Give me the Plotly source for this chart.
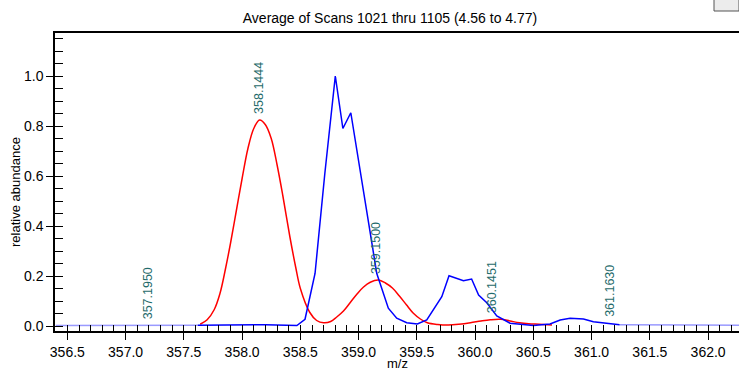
import plotly.graph_objects as go

# ---- data ----
red_mz = [357.64, 357.70, 357.76, 357.81, 357.86, 357.90, 357.95, 358.00, 358.05, 358.10,
          358.15, 358.20, 358.25, 358.30, 358.35, 358.41, 358.46, 358.50, 358.58, 358.64,
          358.70, 358.76, 358.81, 358.87, 358.93, 358.99, 359.04, 359.10, 359.17, 359.23,
          359.29, 359.35, 359.41, 359.47, 359.53, 359.59, 359.68, 359.77, 359.86, 359.96,
          360.05, 360.13, 360.22, 360.30, 360.38, 360.46, 360.55, 360.66]
red_ab = [0.007, 0.025, 0.065, 0.13, 0.235, 0.33, 0.46, 0.59, 0.71, 0.79,
          0.824, 0.805, 0.75, 0.645, 0.52, 0.357, 0.235, 0.15, 0.055, 0.022,
          0.013, 0.018, 0.035, 0.06, 0.095, 0.13, 0.155, 0.175, 0.184, 0.172,
          0.152, 0.12, 0.085, 0.051, 0.028, 0.013, 0.006, 0.004, 0.007, 0.013,
          0.02, 0.025, 0.027, 0.02, 0.013, 0.009, 0.007, 0.004]

blue_mz = [356.40, 356.80, 357.20, 357.62, 357.80, 358.00, 358.20, 358.47, 358.54, 358.626,
           358.71, 358.80, 358.865, 358.933, 359.03, 359.156, 359.255, 359.327, 359.413, 359.504,
           359.585, 359.714, 359.776, 359.90, 359.97, 360.03, 360.10, 360.186, 360.30, 360.50,
           360.643, 360.73, 360.815, 360.93, 361.015, 361.13, 361.24, 361.60, 361.90, 362.27]
blue_ab = [0.002, 0.002, 0.003, 0.003, 0.004, 0.006, 0.005, 0.002, 0.027, 0.21,
           0.61, 1.0, 0.79, 0.853, 0.58, 0.21, 0.071, 0.031, 0.013, 0.008,
           0.024, 0.117, 0.201, 0.181, 0.188, 0.124, 0.093, 0.04, 0.011, 0.002,
           0.008, 0.024, 0.031, 0.028, 0.017, 0.011, 0.005, 0.003, 0.004, 0.003]

label_mz = [357.1950, 358.1444, 359.1500, 360.1451, 361.1630]
label_ab = [0.004, 0.824, 0.184, 0.027, 0.011]
label_txt = ["357.1950", "358.1444", "359.1500", "360.1451", "361.1630"]

x_ticks = [356.5, 357.0, 357.5, 358.0, 358.5, 359.0, 359.5, 360.0, 360.5, 361.0, 361.5, 362.0]
y_ticks = [0.0, 0.2, 0.4, 0.6, 0.8, 1.0]

SOLID_FROM, SOLID_TO = 357.62, 361.24
XR = [356.394, 362.265]
YR = [-0.02, 1.172]

FONT = "Liberation Sans, Arial, sans-serif"

fig = go.Figure()

left = [(m, a) for m, a in zip(blue_mz, blue_ab) if m <= SOLID_FROM]
mid = [(m, a) for m, a in zip(blue_mz, blue_ab) if SOLID_FROM <= m <= SOLID_TO]
right = [(m, a) for m, a in zip(blue_mz, blue_ab) if m >= SOLID_TO]

for seg in (left, right):
    fig.add_trace(go.Scatter(x=[p[0] for p in seg], y=[p[1] for p in seg], mode="lines",
                             line=dict(color="#9a9aff", width=1.6), hoverinfo="skip",
                             showlegend=False))

fig.add_trace(go.Scatter(x=red_mz, y=red_ab, mode="lines", line=dict(color="#ff0000", width=1.5, shape="spline"),
                         showlegend=False))
fig.add_trace(go.Scatter(x=[p[0] for p in mid], y=[p[1] for p in mid], mode="lines",
                         line=dict(color="#0000ff", width=1.5), showlegend=False))

# dummy trace for the inner-tick overlay axes
fig.add_trace(go.Scatter(x=[], y=[], xaxis="x2", yaxis="y2", showlegend=False, hoverinfo="skip"))

for m, a, t in zip(label_mz, label_ab, label_txt):
    fig.add_annotation(x=m, y=a, text=t, textangle=-90, showarrow=False, yanchor="bottom",
                       xanchor="center", yshift=4, font=dict(family=FONT, size=12.5, color="#1f6b6b"))

# axis titles placed explicitly
fig.add_annotation(xref="paper", yref="paper", x=0, xshift=-40, y=(331 - 192) / 298,
                   text="relative abundance", textangle=-90, showarrow=False,
                   xanchor="center", yanchor="middle", font=dict(family=FONT, size=13, color="black"))
fig.add_annotation(xref="paper", yref="paper", x=0.5, y=0, yshift=-32,
                   text="m/z", showarrow=False,
                   xanchor="center", yanchor="middle", font=dict(family=FONT, size=13, color="black"))

fig.update_layout(
    width=739, height=370,
    margin=dict(l=55, r=0, t=33, b=39, autoexpand=False),
    paper_bgcolor="white", plot_bgcolor="white",
    title=dict(text="Average of Scans 1021 thru 1105 (4.56 to 4.77)", x=390 / 739, xanchor="center",
               y=1 - 18 / 370, yanchor="middle", font=dict(family=FONT, size=14, color="black")),
    xaxis=dict(range=XR, tickmode="array", tickvals=x_ticks, ticktext=[f"{v:.1f}" for v in x_ticks],
               ticks="outside", ticklen=7, tickwidth=1.2, tickcolor="black",
               showline=True, linecolor="black", linewidth=1.5, mirror=True,
               showgrid=False, zeroline=False, automargin=False,
               tickfont=dict(family=FONT, size=14, color="black")),
    yaxis=dict(range=YR, tickmode="array", tickvals=y_ticks, ticktext=[f"{v:.1f}" for v in y_ticks],
               ticks="outside", ticklen=7, tickwidth=1.2, tickcolor="black",
               showline=True, linecolor="black", linewidth=1.5, automargin=False,
               showgrid=False, zeroline=False,
               tickfont=dict(family=FONT, size=14, color="black")),
    xaxis2=dict(range=XR, overlaying="x", anchor="y2", side="bottom", tickmode="linear", tick0=356.5, dtick=0.1,
                ticks="inside", ticklen=6, tickwidth=1.2, tickcolor="black", showticklabels=False,
                showline=False, showgrid=False, zeroline=False),
    yaxis2=dict(range=YR, overlaying="y", anchor="x2", side="left", tickmode="linear", tick0=0, dtick=0.05,
                ticks="inside", ticklen=8, tickwidth=1.2, tickcolor="black", showticklabels=False,
                showline=False, showgrid=False, zeroline=False),
)

# small widget in the top-right corner
fig.add_shape(type="rect", xref="paper", yref="paper", x0=(714 - 55) / 684, x1=1.0,
              y0=1 + 22 / 298, y1=1 + 34 / 298, fillcolor="#ececec", line=dict(color="#555555", width=1))

fig.write_html("out.html")
